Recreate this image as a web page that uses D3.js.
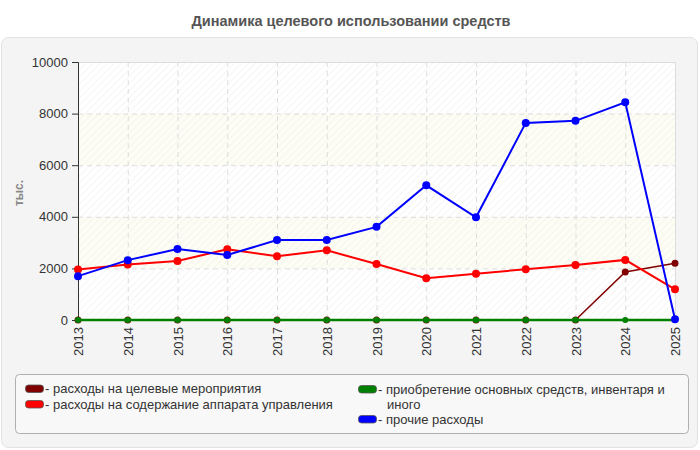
<!DOCTYPE html>
<html lang="ru">
<head>
    <meta charset="UTF-8">
    <title>Динамика целевого использовании средств</title>
    <script src="https://cdn.jsdelivr.net/npm/d3@7"></script>
    <style>
        body {
            margin: 0;
            background: #ffffff;
            font-family: "Liberation Sans", Arial, sans-serif;
        }
        .grid line {
            stroke: #dddddd;
            stroke-dasharray: 5, 4;
        }
        .axis text {
            fill: #333333;
            font-size: 13px;
        }
        .legend text {
            fill: #333333;
            font-size: 13px;
        }
    </style>
</head>
<body>
<svg id="chart" width="700" height="450"></svg>

<script>
    // data
    let years = ["2013", "2014", "2015", "2016", "2017", "2018", "2019", "2020", "2021", "2022", "2023", "2024", "2025"]
    let series_names = [
        "расходы на целевые мероприятия",
        "расходы на содержание аппарата управления",
        "приобретение основных средств, инвентаря и иного",
        "прочие расходы"
    ]
    let series_colors = ["#800000", "#ff0000", "#008000", "#0000ff"]
    let target_costs = [0, 0, 0, 0, 0, 0, 0, 0, 0, 0, 0, 1860, 2200]
    let admin_costs = [1960, 2150, 2290, 2740, 2470, 2700, 2170, 1620, 1790, 1970, 2130, 2330, 1190]
    let assets_costs = [0, 0, 0, 0, 0, 0, 0, 0, 0, 0, 0, 0, 0]
    let other_costs = [1700, 2320, 2750, 2520, 3100, 3100, 3610, 5220, 3980, 7640, 7720, 8440, 30]
    let y_ticks = [0, 2000, 4000, 6000, 8000, 10000]

    let all_series = [target_costs, admin_costs, assets_costs, other_costs]

    let svg = d3.select("#chart")

    // title
    svg.append("text")
        .attr("x", 351).attr("y", 26)
        .attr("text-anchor", "middle")
        .style("font-size", "14.5px")
        .style("font-weight", "bold")
        .style("fill", "#555555")
        .text("Динамика целевого использовании средств")

    // outer panel
    svg.append("rect")
        .attr("x", 1.5).attr("y", 37.5)
        .attr("width", 696).attr("height", 410)
        .attr("rx", 7)
        .style("fill", "#f4f4f4")
        .style("stroke", "#e2e2e2")

    let p_left = 78, p_right = 675, p_top = 62, p_bottom = 320

    let x = d3.scalePoint().domain(years).range([p_left, p_right])
    let y = d3.scaleLinear().domain([0, 10000]).range([p_bottom, p_top])

    // hatch pattern for plot background
    let defs = svg.append("defs")
    let pattern = defs.append("pattern")
        .attr("id", "hatch")
        .attr("patternUnits", "userSpaceOnUse")
        .attr("width", 5).attr("height", 5)
        .attr("patternTransform", "rotate(45)")
    pattern.append("line")
        .attr("x1", 0).attr("y1", 0).attr("x2", 0).attr("y2", 5)
        .style("stroke", "#efefef").style("stroke-width", 1.2)

    svg.append("rect")
        .attr("x", p_left).attr("y", p_top)
        .attr("width", p_right - p_left).attr("height", p_bottom - p_top)
        .style("fill", "#ffffff")

    // alternate tinted bands
    let bands = [[2000, 4000], [6000, 8000]]
    svg.selectAll(".band").data(bands).enter().append("rect")
        .attr("class", "band")
        .attr("x", p_left)
        .attr("y", d => y(d[1]))
        .attr("width", p_right - p_left)
        .attr("height", d => y(d[0]) - y(d[1]))
        .style("fill", "#fdfdf4")

    svg.append("rect")
        .attr("x", p_left).attr("y", p_top)
        .attr("width", p_right - p_left).attr("height", p_bottom - p_top)
        .style("fill", "url(#hatch)")

    // grid
    svg.append("g").attr("class", "grid")
        .selectAll("line").data(y_ticks.slice(1, -1)).enter().append("line")
        .attr("x1", p_left).attr("x2", p_right)
        .attr("y1", d => y(d) + 0.5).attr("y2", d => y(d) + 0.5)
    svg.append("g").attr("class", "grid")
        .selectAll("line").data(years.slice(1, -1)).enter().append("line")
        .attr("x1", d => x(d) + 0.5).attr("x2", d => x(d) + 0.5)
        .attr("y1", p_top).attr("y2", p_bottom)

    // top/right frame
    svg.append("path")
        .attr("d", `M${p_left},${p_top + 0.5}H${p_right + 0.5}V${p_bottom}`)
        .style("fill", "none").style("stroke", "#dddddd")

    // y axis
    let yAxis = svg.append("g").attr("class", "axis")
        .attr("transform", `translate(${p_left},0)`)
        .call(d3.axisLeft(y).tickValues(y_ticks).tickFormat(d3.format("d")).tickSize(6).tickPadding(4))
    yAxis.select(".domain").style("stroke", "#333333")
    yAxis.selectAll(".tick line").style("stroke", "#333333")

    // x axis
    let xAxis = svg.append("g").attr("class", "axis")
        .attr("transform", `translate(0,${p_bottom})`)
        .call(d3.axisBottom(x).tickSize(0).tickPadding(0))
    xAxis.select(".domain").style("stroke", "#333333")
    xAxis.selectAll(".tick text")
        .attr("transform", "rotate(-90)")
        .attr("text-anchor", "end")
        .attr("x", -7)
        .attr("y", 0)
        .attr("dy", "0.35em")

    // y label
    svg.append("text")
        .attr("transform", "translate(19,193) rotate(-90)")
        .attr("text-anchor", "middle")
        .attr("dy", "0.35em")
        .style("font-size", "12px")
        .style("font-weight", "bold")
        .style("fill", "#888888")
        .text("тыс.")

    // lines
    let line_widths = [1.5, 2, 2.5, 2]
    let radius = [3.5, 4, 3, 4]
    let line = d3.line().x((d, i) => x(years[i])).y(d => y(d))
    for (let s = 0; s < all_series.length; s++) {
        let vals = all_series[s]
        svg.append("path")
            .datum(vals)
            .attr("d", line)
            .style("fill", "none")
            .style("stroke", series_colors[s])
            .style("stroke-width", line_widths[s])
        svg.append("g").selectAll("circle").data(vals).enter().append("circle")
            .attr("cx", (d, i) => x(years[i]))
            .attr("cy", d => y(d))
            .attr("r", radius[s])
            .style("fill", series_colors[s])
    }

    // legend
    svg.append("rect")
        .attr("x", 15.5).attr("y", 374.5)
        .attr("width", 673).attr("height", 59)
        .attr("rx", 4)
        .style("fill", "#f8f8f8")
        .style("stroke", "#b0b0b0")

    let legend_pos = [[25, 388.5], [25, 404], [358, 389], [358, 419]]
    let legend = svg.append("g").attr("class", "legend")
    series_names.forEach(function (name, i) {
        let p = legend_pos[i]
        legend.append("rect")
            .attr("x", p[0] + 0.5).attr("y", p[1] - 3.5)
            .attr("width", 18).attr("height", 7.5)
            .attr("rx", 3)
            .style("fill", series_colors[i])
            .style("stroke", "#555555").style("stroke-width", 0.8)
        let label = "- " + name
        let rest = ""
        if (i === 2) {
            let cut = name.lastIndexOf(" ")
            label = "- " + name.slice(0, cut)
            rest = name.slice(cut + 1)
        }
        legend.append("text")
            .attr("x", p[0] + 20).attr("y", p[1])
            .attr("dy", "0.35em")
            .text(label)
        if (rest) {
            legend.append("text")
                .attr("x", p[0] + 29).attr("y", p[1] + 15)
                .attr("dy", "0.35em")
                .text(rest)
        }
    })
</script>
</body>
</html>
